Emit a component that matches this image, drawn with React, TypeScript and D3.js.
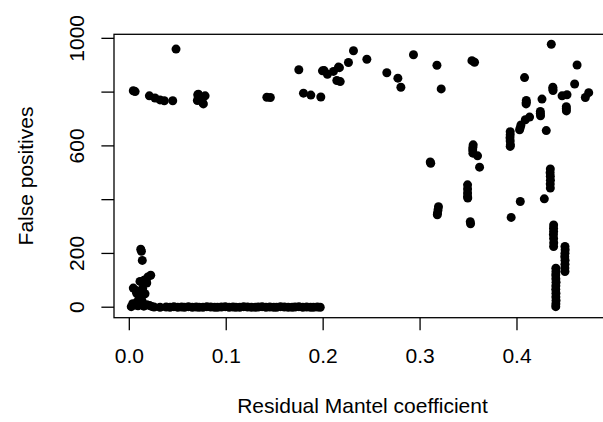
import { useEffect, useRef } from "react";
import * as d3 from "d3";

// points near the origin with a few false positives
const lowCluster: [number, number][] = [
  [0.0118, 216], [0.0125, 208], [0.0134, 174], [0.0221, 119], [0.019, 112],
  [0.011, 96], [0.015, 100], [0.018, 90], [0.0041, 71], [0.0138, 70],
  [0.0076, 52], [0.0162, 50], [0.0069, 62], [0.01, 40], [0.0035, 13],
  [0.006, 8], [0.009, 5], [0.012, 10], [0.015, 4], [0.018, 9], [0.021, 6],
  [0.023, 3], [0.0255, 1], [0.0317, 0], [0.002, 2], [0.008, 20], [0.013, 25],
];

// long run of zero false positives
const zeroRow: [number, number][] = [
  [0.038, 1], [0.042, 0], [0.046, 2], [0.05, 0], [0.054, 1], [0.057, 0],
  [0.061, 2], [0.065, 0], [0.069, 1], [0.072, 0], [0.076, 0], [0.08, 2],
  [0.084, 1], [0.088, 0], [0.091, 0], [0.095, 1], [0.099, 2], [0.103, 0],
  [0.107, 1], [0.11, 0], [0.114, 0], [0.118, 2], [0.122, 1], [0.126, 0],
  [0.13, 0], [0.133, 1], [0.137, 2], [0.141, 0], [0.145, 1], [0.149, 0],
  [0.152, 0], [0.156, 2], [0.16, 1], [0.164, 0], [0.168, 0], [0.171, 1],
  [0.175, 2], [0.179, 0], [0.183, 1], [0.187, 0], [0.19, 0], [0.194, 1],
  [0.197, 0],
];

const topLeft: [number, number][] = [
  [0.0041, 805], [0.006, 802], [0.0207, 786], [0.0265, 778], [0.0317, 771],
  [0.0361, 768], [0.0448, 768], [0.0482, 960], [0.0706, 790], [0.0782, 786],
  [0.0702, 769], [0.0757, 761], [0.0735, 777], [0.0713, 792], [0.0764, 756],
  [0.1419, 781], [0.1455, 780],
];

const topMiddle: [number, number][] = [
  [0.1749, 883], [0.1797, 796], [0.1873, 789], [0.1976, 782], [0.1993, 879],
  [0.201, 880], [0.2044, 866], [0.2106, 877], [0.2158, 893], [0.2168, 891],
  [0.2141, 843], [0.2176, 839], [0.2261, 910], [0.2313, 954], [0.2451, 922],
  [0.2657, 872], [0.2771, 852], [0.2802, 818], [0.2932, 939], [0.3174, 900],
  [0.3218, 812], [0.3535, 917], [0.3562, 911],
];

const rightSpread: [number, number][] = [
  [0.3105, 540], [0.311, 535],
  [0.319, 374], [0.3185, 362], [0.318, 350], [0.3178, 344],
  [0.349, 455], [0.349, 440], [0.349, 425], [0.349, 412], [0.3492, 406],
  [0.3521, 310], [0.3518, 318],
  [0.3548, 604], [0.3545, 595], [0.3543, 585], [0.3545, 573], [0.3593, 563],
  [0.3614, 521],
  [0.393, 653], [0.393, 641], [0.3928, 630], [0.393, 618], [0.3932, 604], [0.393, 598],
  [0.394, 334], [0.4034, 393], [0.4282, 403],
];

const rightStreaks: [number, number][] = [
  [0.4344, 514], [0.4342, 500], [0.4344, 487], [0.4345, 472], [0.4343, 458], [0.4344, 443],
  [0.4378, 306], [0.4377, 294], [0.4378, 282], [0.4376, 270], [0.4378, 256], [0.4379, 240], [0.4378, 226],
  [0.4495, 226], [0.4497, 214], [0.4495, 201], [0.4493, 188], [0.4496, 175], [0.4495, 160], [0.4494, 146], [0.4495, 133],
  [0.4401, 145], [0.4402, 132], [0.44, 120], [0.4401, 106], [0.4403, 93], [0.4401, 80], [0.44, 66],
  [0.4402, 52], [0.4401, 38], [0.4403, 25], [0.4401, 12], [0.44, 2],
];

const topRight: [number, number][] = [
  [0.4027, 660], [0.4034, 668], [0.4041, 678], [0.4086, 697], [0.413, 707],
  [0.4302, 657], [0.4241, 728], [0.4241, 720], [0.4243, 712], [0.4096, 769],
  [0.4096, 762], [0.4094, 756], [0.4258, 774], [0.4078, 854], [0.4354, 978],
  [0.437, 818], [0.437, 812], [0.4372, 806], [0.4465, 786], [0.4516, 790],
  [0.4509, 746], [0.4509, 738], [0.451, 730], [0.4595, 830], [0.462, 901],
  [0.474, 798], [0.4705, 780],
];

const xTicks = [0, 0.1, 0.2, 0.3, 0.4];
const yTicks = [0, 200, 400, 600, 800, 1000];
const yLabelled = [0, 200, 600, 1000];

const xTitle = "Residual Mantel coefficient";
const yTitle = "False positives";

const W = 603,
  H = 422,
  boxLeft = 114,
  boxRight = 611,
  boxTop = 34.3,
  boxBottom = 317.7,
  fontSize = 21,
  lineH = 25.2,
  tickLen = 12.6,
  pointR = 4.5,
  lw = 1.3;

export default function App() {
  const ref = useRef<SVGSVGElement>(null);

  useEffect(() => {
    const svg = d3.select(ref.current);
    svg.selectAll("*").remove();

    const x = d3.scaleLinear().domain([-0.0158, 0.497]).range([boxLeft, boxRight]);
    const y = d3.scaleLinear().domain([-39, 1015]).range([boxBottom, boxTop]);

    svg.append("rect").attr("width", W).attr("height", H).attr("fill", "#fff");

    const all = [
      ...lowCluster,
      ...zeroRow,
      ...topLeft,
      ...topMiddle,
      ...rightSpread,
      ...rightStreaks,
      ...topRight,
    ];

    svg
      .append("g")
      .selectAll("circle")
      .data(all)
      .enter()
      .append("circle")
      .attr("cx", (d) => x(d[0]))
      .attr("cy", (d) => y(d[1]))
      .attr("r", pointR)
      .attr("fill", "#000");

    // plot box (right side runs past the picture edge)
    svg
      .append("rect")
      .attr("x", boxLeft)
      .attr("y", boxTop)
      .attr("width", boxRight - boxLeft)
      .attr("height", boxBottom - boxTop)
      .attr("fill", "none")
      .attr("stroke", "#000")
      .attr("stroke-width", lw);

    const font = "'Liberation Sans', Arial, Helvetica, sans-serif";

    // x axis
    const xa = svg.append("g");
    xa.selectAll(".xt")
      .data(xTicks)
      .enter()
      .append("line")
      .attr("x1", (d) => x(d))
      .attr("x2", (d) => x(d))
      .attr("y1", boxBottom)
      .attr("y2", boxBottom + tickLen)
      .attr("stroke", "#000")
      .attr("stroke-width", lw);
    xa.selectAll(".xl")
      .data(xTicks)
      .enter()
      .append("text")
      .attr("x", (d) => x(d))
      .attr("y", boxBottom + lineH * 1.8)
      .attr("text-anchor", "middle")
      .attr("font-family", font)
      .attr("font-size", fontSize)
      .text((d) => d3.format(".1f")(d));

    // y axis
    const ya = svg.append("g");
    ya.selectAll(".yt")
      .data(yTicks)
      .enter()
      .append("line")
      .attr("x1", boxLeft)
      .attr("x2", boxLeft - tickLen)
      .attr("y1", (d) => y(d))
      .attr("y2", (d) => y(d))
      .attr("stroke", "#000")
      .attr("stroke-width", lw);
    ya.selectAll(".yl")
      .data(yLabelled)
      .enter()
      .append("text")
      .attr("transform", (d) => `translate(${boxLeft - lineH * 1.2},${y(d)}) rotate(-90)`)
      .attr("text-anchor", "middle")
      .attr("font-family", font)
      .attr("font-size", fontSize)
      .text((d) => d);

    // titles centred on the plot region
    svg
      .append("text")
      .attr("x", (boxLeft + boxRight) / 2)
      .attr("y", boxBottom + lineH * 3.8)
      .attr("text-anchor", "middle")
      .attr("font-family", font)
      .attr("font-size", fontSize)
      .text(xTitle);

    svg
      .append("text")
      .attr("transform", `translate(${boxLeft - lineH * 3.2},${(boxTop + boxBottom) / 2}) rotate(-90)`)
      .attr("text-anchor", "middle")
      .attr("font-family", font)
      .attr("font-size", fontSize)
      .text(yTitle);
  }, []);

  return (
    <svg
      ref={ref}
      width={W}
      height={H}
      style={{ position: "absolute", left: 0, top: 0 }}
    />
  );
}
